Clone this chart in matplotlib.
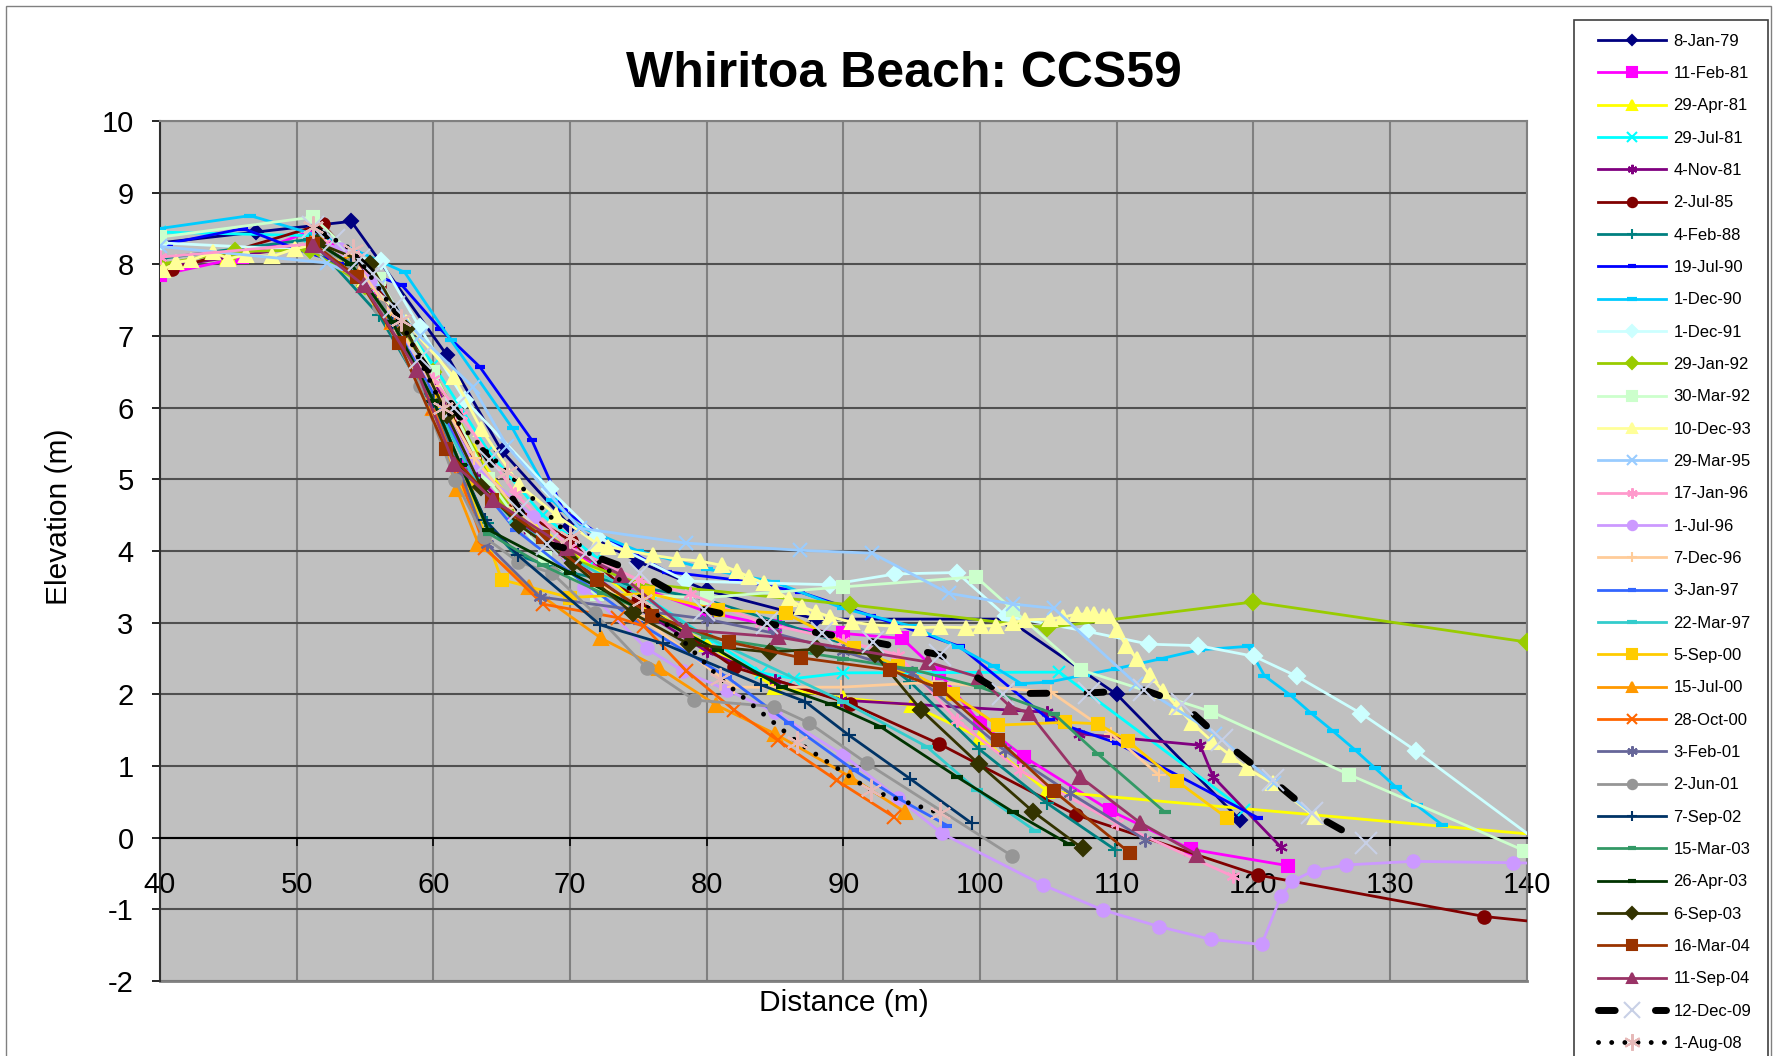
import matplotlib
matplotlib.use('Agg')
import matplotlib.pyplot as plt
from matplotlib.patches import Rectangle

plt.rcParams['font.family'] = ['Liberation Sans', 'DejaVu Sans']
plt.rcParams['axes.unicode_minus'] = False

# ---- survey data (distance m, elevation m) ----
labels = ['8-Jan-79', '11-Feb-81', '29-Apr-81', '29-Jul-81', '4-Nov-81', '2-Jul-85',
          '4-Feb-88', '19-Jul-90', '1-Dec-90', '1-Dec-91', '29-Jan-92', '30-Mar-92',
          '10-Dec-93', '29-Mar-95', '17-Jan-96', '1-Jul-96', '7-Dec-96', '3-Jan-97',
          '22-Mar-97', '5-Sep-00', '15-Jul-00', '28-Oct-00', '3-Feb-01', '2-Jun-01',
          '7-Sep-02', '15-Mar-03', '26-Apr-03', '6-Sep-03', '16-Mar-04', '11-Sep-04',
          '12-Dec-09', '1-Aug-08']

x_jan79 = [40, 47, 54, 61, 65, 70, 75, 80, 88, 102, 110, 119]
y_jan79 = [8.3, 8.45, 8.6, 6.73, 5.4, 4.35, 3.85, 3.45, 3.05, 3.05, 2.0, 0.25]

x_feb81 = [40, 46, 51.5, 56, 60, 62.4, 66, 70, 75, 80, 85, 90, 94.3, 97, 100, 103.2, 109.5, 115.4, 122.5]
y_feb81 = [7.85, 8.1, 8.5, 7.6, 6.4, 5.2, 4.5, 4.0, 3.5, 3.15, 2.95, 2.85, 2.78, 2.3, 1.6, 1.13, 0.38, -0.16, -0.39]

x_apr81 = [40, 45, 52, 56, 60, 63, 66, 70, 75, 80, 85, 90, 95, 100, 104.9, 142]
y_apr81 = [7.95, 8.1, 8.3, 7.5, 6.3, 5.4, 4.6, 4.0, 3.3, 2.7, 2.1, 1.95, 1.85, 1.4, 0.65, 0.02]

x_jul81 = [40, 51, 55, 60, 64, 68, 72, 76, 80, 84, 86.4, 90, 105.8, 119.3]
y_jul81 = [8.45, 8.4, 7.9, 6.6, 5.4, 4.5, 3.9, 3.3, 2.8, 2.3, 2.22, 2.3, 2.31, 0.39]

x_nov81 = [40, 52, 56, 60, 63.4, 67, 70, 75, 80, 85, 89.8, 104.9, 107.25, 116.1, 117.05, 122.0]
y_nov81 = [7.95, 8.3, 7.6, 6.4, 4.99, 4.3, 3.9, 3.2, 2.6, 2.2, 1.92, 1.75, 1.45, 1.29, 0.85, -0.13]

x_jul85 = [40.9, 51.9, 56, 60, 63, 66, 70.1, 75, 82, 90.5, 97.0, 107, 120.3, 136.9, 143]
y_jul85 = [7.93, 8.56, 7.7, 6.5, 5.3, 4.6, 4.14, 3.3, 2.38, 1.87, 1.31, 0.32, -0.52, -1.1, -1.22]

x_feb88 = [40, 51, 56, 60, 63.9, 66, 70, 75, 79.6, 85.2, 92.2, 94.9, 99.9, 104.9, 109.9]
y_feb88 = [8.08, 8.35, 7.3, 6.0, 4.39, 3.95, 3.7, 3.5, 3.34, 3.01, 2.57, 2.17, 1.24, 0.48, -0.17]

x_jul90 = [40.6, 46.1, 50.2, 53.5, 57.7, 60.5, 63.4, 67.2, 69.5, 72, 77.1, 82, 86.8, 92, 98.5, 105.1, 110, 120.3]
y_jul90 = [8.29, 8.5, 8.2, 8.0, 7.71, 7.1, 6.57, 5.55, 4.57, 4.25, 3.71, 3.6, 3.43, 3.1, 2.67, 1.64, 1.32, 0.28]

x_dec90 = [40, 46.6, 52.5, 57.9, 61.3, 65.8, 68.7, 70.7, 75, 80, 84.9, 90, 95, 98.4, 101, 103, 105,
           107.6, 110, 113.3, 116, 119.6, 120.8, 122.7, 124.2, 125.8, 127.4, 128.9, 130.4, 131.95, 133.8]
y_dec90 = [8.5, 8.68, 8.35, 7.89, 6.94, 5.71, 4.71, 4.34, 4.0, 3.75, 3.57, 3.2, 2.95, 2.66, 2.39, 2.15, 2.17,
           2.27, 2.36, 2.5, 2.62, 2.67, 2.26, 1.99, 1.74, 1.49, 1.23, 0.97, 0.71, 0.45, 0.18]

x_dec91 = [40, 51, 56.2, 59, 62.3, 68.5, 72, 78.5, 89, 93.8, 98.3, 101.9, 107.8, 112.35, 115.96, 120.06, 123.2, 127.9, 131.9, 141]
y_dec91 = [8.3, 8.2, 8.04, 7.12, 6.11, 4.86, 4.2, 3.58, 3.53, 3.68, 3.70, 3.09, 2.88, 2.70, 2.68, 2.53, 2.25, 1.73, 1.21, -0.08]

x_jan92 = [40, 45.5, 51, 55, 60, 65, 70, 75, 90.5, 104.9, 120, 140]
y_jan92 = [8.0, 8.18, 8.2, 7.7, 6.5, 4.7, 3.9, 3.55, 3.25, 2.93, 3.29, 2.73]

x_mar92 = [40, 51.2, 56, 60, 64, 68.2, 72, 80, 90, 99.7, 102.4, 107.4, 116.9, 127, 139.8]
y_mar92 = [8.38, 8.66, 7.8, 6.5, 5.0, 3.9, 3.4, 3.35, 3.5, 3.64, 3.18, 2.34, 1.76, 0.88, -0.18]

x_dec93 = [40.2, 41.2, 42.3, 43.9, 45.0, 46.3, 48.2, 49.9, 52, 55, 58, 61.5, 63.5, 66.3, 69, 72.0, 72.8,
           74.1, 76.1, 77.8, 79.5, 81.1, 82.2, 83.1, 84.2, 85.0, 86.0, 87.0, 88.0, 89.05, 90.6, 92.1,
           93.7, 95.6, 97.1, 99.0, 100.1, 101.2, 102.4, 103.3, 105.1, 106.1, 107.1, 107.8, 108.3, 109.0,
           109.4, 110.0, 110.7, 111.5, 112.4, 113.4, 114.4, 115.5, 117.0, 118.3, 119.5, 121.4, 124.5]
y_dec93 = [7.92, 8.03, 8.06, 8.17, 8.08, 8.13, 8.11, 8.22, 8.3, 7.8, 7.2, 6.43, 5.7, 4.92, 4.5, 4.1, 4.06,
           4.01, 3.94, 3.89, 3.86, 3.8, 3.72, 3.64, 3.55, 3.45, 3.33, 3.22, 3.15, 3.08, 3.01, 2.97,
           2.95, 2.93, 2.94, 2.93, 2.95, 2.96, 3.0, 3.04, 3.05, 3.08, 3.12, 3.12, 3.12, 3.09,
           3.09, 2.9, 2.67, 2.49, 2.27, 2.04, 1.83, 1.6, 1.34, 1.15, 0.97, 0.76, 0.29]

x_mar95 = [40, 52.2, 56, 59, 62.9, 65.4, 70.7, 78.5, 86.8, 92.1, 97.7, 102.4, 105.4, 111.4, 117.2, 121.5, 124.3]
y_mar95 = [8.25, 8.02, 7.7, 7.0, 6.29, 5.46, 4.32, 4.11, 4.01, 3.97, 3.41, 3.26, 3.2, 2.15, 1.45, 0.76, 0.34]

x_jan96 = [40, 52, 54.5, 57, 60, 62, 66, 70, 75, 78.8, 84, 90, 94, 98.3, 102.9, 110, 118.5]
y_jan96 = [8.1, 8.3, 8.1, 7.2, 6.4, 5.9, 4.8, 4.05, 3.6, 3.4, 3.0, 2.75, 2.55, 1.64, 0.94, 0.2, -0.54]

x_jul96 = [51.5, 53.2, 55.4, 59, 63, 67.3, 71, 75.6, 78.3, 81.5, 85, 90, 94, 97.2, 104.6, 109, 113.1,
           116.9, 120.6, 122.0, 122.8, 124.4, 126.8, 131.7, 139, 142]
y_jul96 = [8.3, 8.22, 7.78, 6.6, 5.2, 4.48, 3.5, 2.64, 2.32, 2.06, 1.75, 1.15, 0.55, 0.06, -0.66, -1.01, -1.24,
           -1.42, -1.49, -0.82, -0.61, -0.46, -0.38, -0.33, -0.35, -0.36]

x_dec96 = [51.5, 54, 57, 60, 63, 66, 70, 75, 82, 89.8, 96.6, 105.2, 109.6, 113.1]
y_dec96 = [8.3, 8.1, 7.3, 6.3, 5.3, 4.6, 3.9, 3.1, 2.1, 2.1, 2.17, 2.03, 1.45, 0.87]

x_jan97 = [51.5, 54, 57, 60, 63, 66, 70, 75, 81.5, 86, 90.8, 94, 97.6]
y_jan97 = [8.3, 8.0, 7.2, 6.2, 5.0, 4.3, 3.7, 3.0, 2.24, 1.6, 0.94, 0.55, 0.17]

x_mar97 = [51.5, 54, 57, 60, 63, 66, 70, 75, 80, 90, 96.1, 99.8, 104]
y_mar97 = [8.3, 8.0, 7.2, 6.1, 5.0, 4.4, 3.9, 3.4, 2.8, 1.9, 1.27, 0.66, 0.1]

x_sep00 = [51.5, 54, 57, 60, 62.5, 65.0, 70, 75.7, 80.8, 85.8, 90.8, 94, 98, 101.3, 106.2, 108.6, 110.8, 114.4, 118.1]
y_sep00 = [8.3, 8.0, 7.2, 6.1, 4.9, 3.6, 3.35, 3.41, 3.18, 3.13, 2.64, 2.4, 2.0, 1.57, 1.61, 1.59, 1.35, 0.79, 0.27]

x_jul00 = [51.5, 54, 57, 60, 61.7, 63.3, 67, 72.3, 76.5, 80.7, 85, 90.5, 94.5]
y_jul00 = [8.3, 8.0, 7.2, 6.0, 4.87, 4.1, 3.5, 2.78, 2.37, 1.85, 1.45, 0.85, 0.36]

x_oct00 = [51.5, 54, 57, 60, 62, 63.8, 68, 73.5, 75.4, 78.5, 82, 85.2, 89.5, 93.7]
y_oct00 = [8.3, 8.0, 7.2, 6.0, 5.0, 4.04, 3.26, 3.07, 2.95, 2.33, 1.78, 1.36, 0.8, 0.29]

x_feb01 = [51.5, 54, 57, 60, 62, 63.9, 67.8, 74.7, 80, 85, 90, 95, 101.8, 106.6, 112.1]
y_feb01 = [8.3, 8.0, 7.2, 6.1, 5.1, 4.1, 3.36, 3.18, 3.05, 2.85, 2.6, 2.3, 1.22, 0.62, -0.03]

x_jun01 = [51.5, 54, 56, 59, 61.6, 63.7, 66.2, 68.7, 71.8, 75.6, 79.1, 84.9, 87.5, 91.7, 102.3]
y_jun01 = [8.25, 8.0, 7.4, 6.3, 4.99, 4.2, 3.85, 3.69, 3.13, 2.37, 1.92, 1.83, 1.6, 1.04, -0.25]

x_sep02 = [51.5, 54, 57, 60, 62, 63.8, 66.2, 72.2, 76.8, 84.0, 87.2, 90.4, 94.9, 99.4]
y_sep02 = [8.3, 8.0, 7.2, 6.1, 5.2, 4.43, 3.94, 2.97, 2.71, 2.13, 1.9, 1.43, 0.82, 0.2]

x_mar03 = [51.5, 54, 57, 60, 62, 64.1, 68, 72.4, 80, 90, 95, 100, 105.4, 108.6, 113.5]
y_mar03 = [8.3, 8.0, 7.2, 6.1, 5.2, 4.24, 3.8, 3.41, 2.8, 2.5, 2.35, 2.1, 1.73, 1.17, 0.36]

x_apr03 = [51.5, 54, 57, 60, 62, 64, 70, 75, 80.8, 85.5, 89.1, 92.7, 98.3, 102.4, 106.5]
y_apr03 = [8.3, 8.0, 7.2, 6.1, 5.2, 4.3, 3.7, 3.2, 2.62, 2.1, 1.86, 1.55, 0.85, 0.36, -0.09]

x_sep03 = [51.5, 55.4, 58, 61, 63.5, 66.3, 70.2, 74.6, 78.7, 84.6, 88.1, 92.3, 95.7, 99.9, 103.9, 107.5]
y_sep03 = [8.3, 8.0, 7.1, 5.9, 4.9, 4.36, 3.83, 3.13, 2.7, 2.59, 2.63, 2.56, 1.78, 1.03, 0.36, -0.15]

x_mar04 = [51.2, 54.4, 57.5, 60.9, 64.3, 68, 72, 76, 81.6, 86.9, 93.4, 97.1, 101.3, 105.4, 111.0]
y_mar04 = [8.29, 7.83, 6.9, 5.43, 4.71, 4.2, 3.6, 3.1, 2.73, 2.51, 2.34, 2.08, 1.37, 0.65, -0.22]

x_sep04 = [51.2, 54.9, 58.8, 61.5, 64.4, 69.8, 73.7, 78.5, 85.2, 96.2, 99.9, 102.2, 103.6, 107.3, 111.7, 115.9]
y_sep04 = [8.27, 7.71, 6.52, 5.22, 4.71, 4.04, 3.67, 2.9, 2.8, 2.45, 2.24, 1.83, 1.74, 0.85, 0.21, -0.24]

x_dec09 = [51.2, 52.7, 54.6, 55.6, 57.1, 59.0, 61.5, 64.1, 66.3, 68.3, 71.2, 75.1, 79.8, 84.4, 88.4,
           92.2, 97.1, 101.7, 108.0, 112.0, 114.8, 117.7, 121.4, 124.3, 128.2]
y_dec09 = [8.52, 8.34, 8.06, 7.87, 7.4, 6.7, 6.0, 5.27, 4.57, 4.1, 3.97, 3.69, 3.18, 2.99, 2.85,
           2.73, 2.55, 2.01, 2.02, 2.06, 1.87, 1.36, 0.8, 0.34, -0.08]

x_aug08 = [51.2, 54.1, 57.6, 60.7, 65.4, 70.0, 75.3, 81.0, 86.6, 92.0, 97.1]
y_aug08 = [8.52, 8.2, 7.22, 6.0, 5.1, 4.2, 3.32, 2.22, 1.34, 0.66, 0.34]

xs = [x_jan79, x_feb81, x_apr81, x_jul81, x_nov81, x_jul85, x_feb88, x_jul90, x_dec90, x_dec91,
      x_jan92, x_mar92, x_dec93, x_mar95, x_jan96, x_jul96, x_dec96, x_jan97, x_mar97, x_sep00,
      x_jul00, x_oct00, x_feb01, x_jun01, x_sep02, x_mar03, x_apr03, x_sep03, x_mar04, x_sep04,
      x_dec09, x_aug08]
ys = [y_jan79, y_feb81, y_apr81, y_jul81, y_nov81, y_jul85, y_feb88, y_jul90, y_dec90, y_dec91,
      y_jan92, y_mar92, y_dec93, y_mar95, y_jan96, y_jul96, y_dec96, y_jan97, y_mar97, y_sep00,
      y_jul00, y_oct00, y_feb01, y_jun01, y_sep02, y_mar03, y_apr03, y_sep03, y_mar04, y_sep04,
      y_dec09, y_aug08]

colors = ['#000080', '#FF00FF', '#FFFF00', '#00FFFF', '#800080', '#800000', '#008080', '#0000FF',
          '#00CCFF', '#CCFFFF', '#99CC00', '#CCFFCC', '#FFFF99', '#99CCFF', '#FF99CC', '#CC99FF',
          '#FFCC99', '#3366FF', '#33CCCC', '#FFCC00', '#FF9900', '#FF6600', '#666699', '#969696',
          '#003366', '#339966', '#003300', '#333300', '#993300', '#993366', '#000000', '#000000']

star = (6, 2, 0)
markers = ['D', 's', '^', 'x', star, 'o', '+', '_', '_', 'D', 'D', 's', '^', 'x', star, 'o',
           '+', '_', '_', 's', '^', 'x', star, 'o', '+', '_', '_', 'D', 's', '^', 'x', star]
msizes = [7, 9, 10, 9, 9, 9, 10, 7, 9, 8, 8, 9, 10, 10, 10, 9,
          10, 7, 9, 9, 10, 10, 10, 9, 10, 8, 8, 8, 9, 10, 16, 16]

# ---- figure ----
fig = plt.figure(figsize=(17.75, 10.56), dpi=100)
ax = fig.add_axes([0.0901, 0.0710, 0.7701, 0.8144])
ax.set_facecolor('#C0C0C0')

handles = []
for i in range(len(labels)):
    if i == 30:
        ln, = ax.plot(xs[i], ys[i], color='black', lw=5, dashes=(2.4, 5.8),
                      dash_capstyle='round', marker='x', ms=msizes[i], mec='#C8D0E6',
                      mew=1.5, zorder=3 + i * 0.01)
    elif i == 31:
        ln, = ax.plot(xs[i], ys[i], color='black', lw=3.5, dashes=(0.01, 2.7),
                      dash_capstyle='round', marker=star, ms=msizes[i], mec='#E6B9B8',
                      mew=1.5, zorder=3 + i * 0.01)
    else:
        mew = 3 if markers[i] == '_' else 1.5
        ln, = ax.plot(xs[i], ys[i], color=colors[i], lw=2, marker=markers[i], ms=msizes[i],
                      mfc=colors[i], mec=colors[i], mew=mew, zorder=3 + i * 0.01)
    handles.append(ln)

ax.set_xlim(40, 140)
ax.set_ylim(-2, 10)
ax.set_xticks(range(40, 141, 10))
ax.set_yticks(range(-2, 11, 1))
ax.grid(True, axis='y', color='#505050', lw=1.5, zorder=1)
ax.grid(True, axis='x', color='#808080', lw=1.5, zorder=1)
ax.set_axisbelow(True)

ax.spines['bottom'].set_position(('data', 0))
ax.spines['bottom'].set_color('black')
ax.spines['bottom'].set_linewidth(1.5)
ax.spines['bottom'].set_zorder(2.5)
ax.spines['left'].set_color('#303030')
ax.spines['left'].set_linewidth(1.5)
for s in ['top', 'right']:
    ax.spines[s].set_color('#808080')
    ax.spines[s].set_linewidth(1.5)
ax.axhline(-2, color='#808080', lw=2, clip_on=False, zorder=2)

ax.tick_params(axis='x', direction='out', length=6, width=1.2, pad=18, labelsize=21)
ax.tick_params(axis='y', direction='out', length=6, width=1.2, pad=13, labelsize=21)

ax.set_xlabel('Distance (m)', fontsize=21.5)
ax.xaxis.set_label_coords(0.5, -0.026)
ax.xaxis.label.set_va('center')
ax.set_ylabel('Elevation (m)', fontsize=21.5)
ax.yaxis.set_label_coords(-0.074, 0.54)
ax.yaxis.label.set_va('center')

fig.text(0.509, 0.93, 'Whiritoa Beach: CCS59', fontsize=36, fontweight='bold',
         ha='center', va='center')

# legend without its own frame; frame drawn as a separate box
leg = fig.legend(handles, labels, loc='upper left', bbox_to_anchor=(0.9003, 0.968),
                 fontsize=12, frameon=False, handlelength=4.1, handletextpad=0.42,
                 labelspacing=1.04, borderpad=0, numpoints=1, borderaxespad=0,
                 markerscale=0.75)

fig.patches.append(Rectangle((0.8865, -0.01), 0.1096, 0.9907, transform=fig.transFigure,
                             fill=False, edgecolor='#404040', lw=1.2))
fig.patches.append(Rectangle((0.0032, -0.01), 0.9948, 1.0046, transform=fig.transFigure,
                             fill=False, edgecolor='#808080', lw=1))

fig.savefig('out.png', dpi=100)
